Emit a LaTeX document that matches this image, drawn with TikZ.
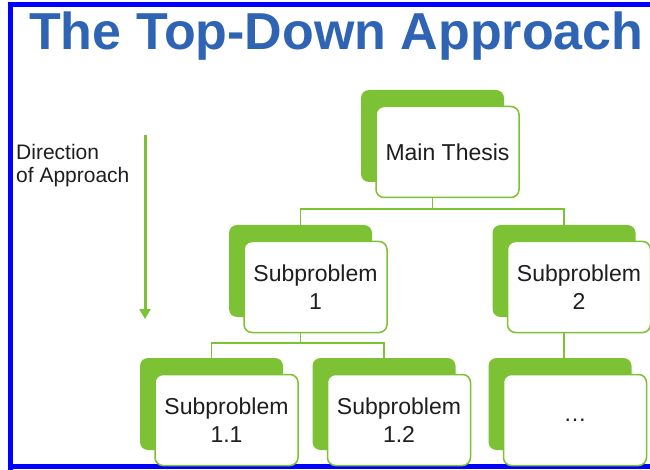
\documentclass[tikz,border=0pt]{standalone}
\usepackage{fontspec}
\setmainfont{Liberation Sans}
\usetikzlibrary{arrows.meta,backgrounds}
\definecolor{leaf}{RGB}{124,194,52}
\definecolor{titleblue}{RGB}{47,99,180}
\definecolor{ink}{RGB}{30,30,30}
\tikzset{
	backbox/.style={fill=leaf,rounded corners=8pt,minimum width=143pt,minimum height=92pt,inner sep=0pt},
	frontbox/.style={fill=white,draw=leaf,line width=1.5pt,rounded corners=8pt,minimum width=143pt,minimum height=91pt,
		inner sep=0pt,align=center,text=ink,font=\fontsize{23}{28}\selectfont},
	link/.style={draw=leaf,line width=1.8pt},
}
\begin{document}
\begin{tikzpicture}[x=1pt,y=-1pt]
		\useasboundingbox (0,0) rectangle (650,470);
		\clip (0,0) rectangle (650,470);
		\pgfmathsetmacro{\dx}{15}
		\pgfmathsetmacro{\dy}{16}
		% title and frame
		\draw[blue,line width=4.5pt] (10.5,475)--(10.5,4.5)--(660,4.5) (10.5,466.5)--(660,466.5);
		\node[anchor=base west,inner sep=0pt,text=titleblue,font=\fontsize{52}{52}\selectfont\bfseries] (title) at (29,50) {The Top-Down Approach};
		% direction arrow
		\node[anchor=base west,inner sep=0pt,align=left,text=ink,font=\fontsize{21}{23}\selectfont] (dir) at (16,183) {Direction\\of Approach};
		\coordinate (dtop) at (145,135);
		\coordinate (dbot) at (145,319);
		\draw[leaf,line width=3pt,-{Triangle[width=11pt,length=10pt]}] (dtop)--(dbot);
		% back boxes
		\node[backbox] (main) at (432.5,136) {};
		\node[backbox] (sub1) at (300.5,271) {};
		\node[backbox] (sub2) at (564,271) {};
		\node[backbox] (sub11) at (211.5,404) {};
		\node[backbox] (sub12) at (384,404) {};
		\node[backbox] (subx) at (560,404) {};
		% front boxes
		\node[frontbox] (main-f) at ([shift={(\dx,\dy)}]main.center) {Main Thesis};
		\node[frontbox] (sub1-f) at ([shift={(\dx,\dy)}]sub1.center) {Subproblem\\1};
		\node[frontbox] (sub2-f) at ([shift={(\dx,\dy)}]sub2.center) {Subproblem\\2};
		\node[frontbox] (sub11-f) at ([shift={(\dx,\dy)}]sub11.center) {Subproblem\\1.1};
		\node[frontbox] (sub12-f) at ([shift={(\dx,\dy)}]sub12.center) {Subproblem\\1.2};
		\node[frontbox] (subx-f) at ([shift={(\dx,\dy)}]subx.center) {\dots};
		% connectors
		\coordinate (bus1) at (0,209);
		\coordinate (bus2) at (0,343);
		\begin{pgfonlayer}{background}
			\draw[link] (main.center)--(main.center|-bus1)-|(sub1.center);
			\draw[link] (main.center|-bus1)-|(sub2.center);
			\draw[link] (sub1.center)--(sub1.center|-bus2)-|(sub11.center);
			\draw[link] (sub1.center|-bus2)-|(sub12.center);
			\draw[link] (sub2.center)--(sub2.center|-subx.center);
		\end{pgfonlayer}
	\end{tikzpicture}
\end{document}
